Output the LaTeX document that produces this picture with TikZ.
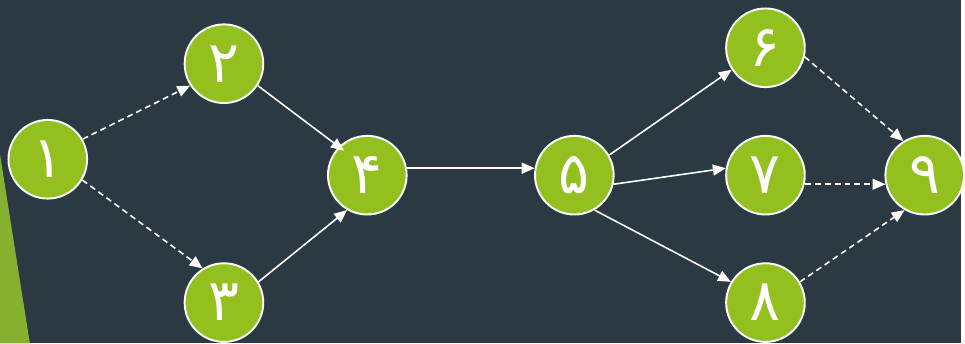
\documentclass[tikz,border=0pt]{standalone}
\usepackage{fontspec}
\usepackage{xcolor}
\usepackage{tikz}
\usetikzlibrary{arrows.meta}
\newfontfamily\arabicfont[Script=Arabic]{DejaVu Sans}
\definecolor{slate}{HTML}{2B3A42}
\definecolor{leaf}{HTML}{93C01F}
\definecolor{darkleaf}{HTML}{86B02E}
\tikzstyle{node}=[fill=leaf, draw=white, line width=1.1pt, shape=circle, minimum size=1.58cm, inner sep=0pt, text=white, font=\arabicfont\fontsize{33}{33}\selectfont]
\tikzstyle{solid edge}=[-{Triangle[length=0.26cm, width=0.22cm]}, draw=white, line width=0.9pt]
\tikzstyle{dashed edge}=[-{Triangle[length=0.26cm, width=0.22cm]}, draw=white, line width=0.9pt, dash pattern=on 0.12cm off 0.08cm]
\pgfdeclarelayer{backlayer}
\pgfdeclarelayer{nodelayer}
\pgfdeclarelayer{edgelayer}
\pgfsetlayers{backlayer,nodelayer,edgelayer,main}

\begin{document}
\begin{tikzpicture}
	\begin{pgfonlayer}{backlayer}
		\fill [slate] (0, 0) rectangle (19.3, 6.9);
		\fill [darkleaf] (0, 3.8) -- (0.6, 0) -- (0, 0) -- cycle;
		\useasboundingbox (0, 0) rectangle (19.3, 6.9);
	\end{pgfonlayer}
	\begin{pgfonlayer}{nodelayer}
		\node [style=node] (1) at (0.96, 3.7) {۱};
		\node [style=node] (2) at (4.5, 5.62) {۲};
		\node [style=node] (3) at (4.5, 0.82) {۳};
		\node [style=node] (4) at (7.38, 3.38) {۴};
		\node [style=node] (5) at (11.54, 3.38) {۵};
		\node [style=node] (6) at (15.38, 5.94) {۶};
		\node [style=node] (7) at (15.38, 3.38) {۷};
		\node [style=node] (8) at (15.38, 0.82) {۸};
		\node [style=node] (9) at (18.58, 3.38) {۹};
	\end{pgfonlayer}
	\begin{pgfonlayer}{edgelayer}
		\draw [style=dashed edge] (1.30) to (2.213);
		\draw [style=dashed edge] (1.-31) to (3.122);
		\draw [style=solid edge, shorten >=-0.13cm] (2.-33) to (4.135);
		\draw [style=solid edge] (3.31) to (4.240);
		\draw [style=solid edge] (4.10) to (5.170);
		\draw [style=solid edge] (5.30) to (6.213);
		\draw [style=solid edge] (5.-13) to (7.170);
		\draw [style=solid edge] (5.-60) to (8.149);
		\draw [style=dashed edge] (6.-13) to (9.122);
		\draw [style=dashed edge] (7.-13) to (9.193);
		\draw [style=dashed edge] (8.31) to (9.240);
	\end{pgfonlayer}
\end{tikzpicture}
\end{document}
